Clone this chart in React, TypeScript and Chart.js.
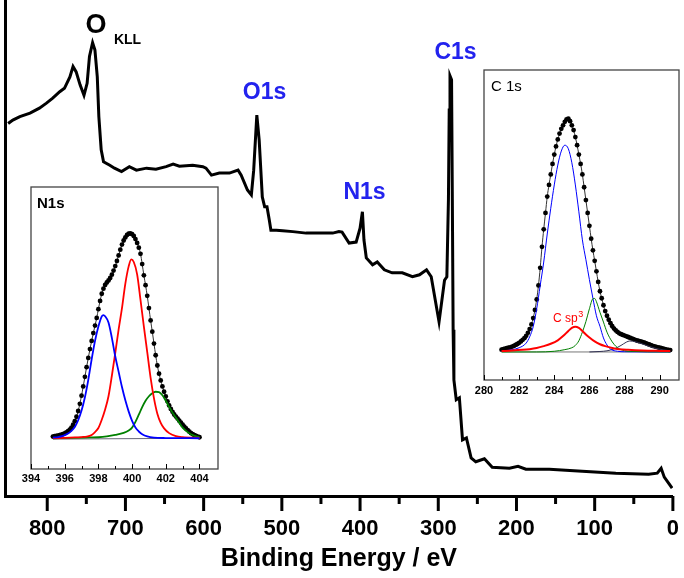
import React, { useEffect, useRef } from "react";
import { Chart, registerables } from "chart.js";
Chart.register(...registerables);

const FONT = '"Liberation Sans", Arial, Helvetica, sans-serif';
const BLUE_LABEL = "#2323ee";

// ---- Survey spectrum: [binding energy eV, intensity a.u.] ----
const SURVEY: [number, number][] = [
  [850, 75.1], [844, 75.8], [835, 76.5], [822, 77.2], [810, 78.2], [801, 79.2], [793, 80.2],
  [784, 81.5], [778, 82.2], [771, 84.5], [767, 86.6], [763, 85.5], [758, 82.9], [753, 80.8],
  [749, 83.2], [746, 88.6], [742, 91.4], [739, 89.9], [736, 84.5], [734, 76.5], [731, 69.8],
  [728, 67.4], [720, 66.7], [714, 66.1], [705, 65.4], [695, 66.4], [686, 65.7], [673, 66.1],
  [661, 65.9], [648, 66.4], [639, 66.9], [631, 66.5], [614, 66.7], [601, 66.4], [597, 66.1],
  [590, 64.7], [580, 65.1], [567, 65.1], [556, 65.7], [552, 64.7], [544, 61.7], [539, 60.7],
  [536, 65.7], [532, 76.8], [529, 71.8], [525, 60.3], [522, 58.3], [519, 58.3], [516, 55.6],
  [514, 53.6], [507, 53.6], [499, 53.5], [486, 53.3], [469, 53.0], [452, 53.0], [435, 53.0],
  [427, 53.3], [423, 53.2], [414, 51.0], [405, 51.2], [400, 54.0], [397, 57.3], [395, 51.6],
  [392, 48.0], [384, 46.6], [378, 47.2], [369, 45.6], [359, 45.0], [346, 45.0], [333, 44.2],
  [324, 44.6], [315, 45.6], [309, 44.2], [299, 35.1], [292, 43.5], [289, 44.2], [287, 59.7],
  [286, 77.8], [285, 84.7], [283, 83.9], [282, 59.7], [281, 33.5], [280, 23.4], [277, 19.4],
  [273, 19.8], [269, 11.3], [264, 11.7], [258, 7.7], [252, 6.9], [241, 7.5], [231, 5.8],
  [209, 5.6], [198, 6.0], [188, 5.4], [158, 5.4], [116, 5.0], [73, 4.6], [31, 4.4],
  [20, 4.6], [15, 5.6], [11, 3.8], [1, 1.6],
];
const SURVEY_LABELED_TICKS = [800, 700, 600, 500, 400, 300, 200, 100, 0];

// ---- N1s inset ----
const N1S_ENVELOPE: [number, number][] = [
  [395.3, 0.8], [395.4, 1.0], [395.5, 1.2], [395.6, 1.3], [395.7, 1.5], [395.8, 1.7], [395.9, 2.0],
  [396.0, 2.4], [396.1, 2.9], [396.2, 3.5], [396.3, 4.2], [396.4, 5.2], [396.5, 6.6], [396.6, 8.3],
  [396.7, 10.5], [396.8, 13.3], [396.9, 16.8], [397.0, 20.8], [397.1, 25.3], [397.2, 30.0],
  [397.3, 34.7], [397.4, 39.2], [397.5, 43.5], [397.6, 47.5], [397.7, 51.3], [397.8, 55.0],
  [397.9, 58.7], [398.0, 63.0], [398.1, 67.0], [398.2, 70.5], [398.3, 73.0], [398.4, 74.8],
  [398.5, 76.0], [398.6, 77.0], [398.7, 78.2], [398.8, 79.8], [398.9, 81.8], [399.0, 84.0],
  [399.1, 86.5], [399.2, 89.2], [399.3, 92.0], [399.4, 94.5], [399.5, 96.5], [399.6, 98.0],
  [399.7, 99.2], [399.8, 99.8], [399.9, 100], [400.0, 99.6], [400.1, 98.7], [400.2, 97.2],
  [400.3, 95.3], [400.4, 93.0], [400.5, 90.0], [400.6, 85.0], [400.7, 79.5], [400.8, 74.7],
  [400.9, 69.5], [401.0, 63.5], [401.1, 57.5], [401.2, 52.0], [401.3, 46.2], [401.4, 40.5],
  [401.5, 35.5], [401.6, 31.5], [401.7, 28.2], [401.8, 25.3], [401.9, 22.7], [402.0, 20.4],
  [402.1, 18.0], [402.2, 16.0], [402.3, 14.3], [402.4, 12.9], [402.5, 11.6], [402.6, 10.6],
  [402.7, 9.6], [402.8, 8.6], [402.9, 7.6], [403.0, 6.6], [403.1, 5.7], [403.2, 4.8],
  [403.3, 4.0], [403.4, 3.2], [403.5, 2.5], [403.6, 2.0], [403.7, 1.5], [403.8, 1.1],
  [403.9, 0.8], [404.0, 0.5],
];
const N1S_BLUE: [number, number][] = [
  [395.3, 0.3], [395.6, 0.6], [395.9, 1.2], [396.2, 2.3], [396.4, 3.6], [396.6, 5.5], [396.8, 8.8],
  [397.0, 13.5], [397.2, 20.0], [397.4, 28.5], [397.6, 38.5], [397.8, 47.5], [398.0, 54.5],
  [398.2, 59.5], [398.3, 60.1], [398.4, 59.5], [398.6, 56.5], [398.8, 49.0], [399.0, 40.0],
  [399.2, 32.5], [399.4, 25.0], [399.6, 18.5], [399.8, 13.0], [400.0, 8.5], [400.2, 5.2],
  [400.4, 3.3], [400.6, 2.0], [400.9, 0.9], [401.3, 0.3], [402.0, 0.1], [404.0, 0],
];
const N1S_RED: [number, number][] = [
  [395.3, 0.1], [396.0, 0.2], [396.6, 0.4], [397.0, 0.6], [397.3, 0.8], [397.6, 1.6], [397.8, 3.0],
  [398.0, 5.0], [398.2, 9.0], [398.4, 14.0], [398.6, 20.5], [398.8, 30.5], [399.0, 41.5],
  [399.2, 53.0], [399.4, 63.5], [399.6, 75.5], [399.8, 84.0], [399.95, 87.3], [400.1, 86.0],
  [400.3, 80.0], [400.5, 67.5], [400.7, 54.5], [400.9, 42.0], [401.1, 29.5], [401.3, 19.5],
  [401.5, 12.0], [401.7, 7.5], [401.9, 4.8], [402.2, 2.5], [402.6, 1.0], [403.0, 0.5], [404.0, 0.2],
];
const N1S_GREEN: [number, number][] = [
  [395.3, 0], [396.5, 0.2], [397.5, 0.4], [398.0, 0.5], [398.5, 0.9], [399.0, 1.6], [399.5, 2.6],
  [399.8, 3.8], [400.0, 5.2], [400.2, 8.0], [400.4, 11.5], [400.6, 15.2], [400.8, 18.3],
  [401.0, 20.5], [401.2, 22.0], [401.4, 22.7], [401.6, 22.5], [401.8, 21.0], [402.0, 18.3],
  [402.2, 15.3], [402.4, 12.5], [402.6, 10.0], [402.8, 7.6], [403.0, 5.2], [403.3, 3.0],
  [403.6, 1.5], [404.0, 0.5],
];
const N1S_BASE: [number, number][] = [[395.3, -0.4], [404.0, 0]];

// ---- C 1s inset ----
const C1S_ENVELOPE: [number, number][] = [
  [281.0, 1.0], [281.1, 1.2], [281.2, 1.4], [281.3, 1.6], [281.4, 1.8], [281.5, 2.0], [281.6, 2.3],
  [281.7, 2.6], [281.8, 3.0], [281.9, 3.4], [282.0, 3.9], [282.1, 4.5], [282.2, 5.2], [282.3, 5.9],
  [282.4, 6.9], [282.5, 8.2], [282.6, 9.8], [282.7, 11.8], [282.8, 14.5], [282.9, 18.0],
  [283.0, 22.5], [283.1, 28.5], [283.2, 36.0], [283.3, 45.0], [283.4, 52.5], [283.5, 59.5],
  [283.6, 66.5], [283.7, 71.5], [283.8, 76.0], [283.9, 80.5], [284.0, 84.5], [284.1, 88.0],
  [284.2, 91.0], [284.3, 93.5], [284.4, 95.5], [284.5, 97.0], [284.6, 98.5], [284.7, 99.6],
  [284.8, 99.9], [284.9, 98.8], [285.0, 97.0], [285.1, 95.0], [285.2, 92.0], [285.3, 88.5],
  [285.4, 84.5], [285.5, 80.5], [285.6, 76.0], [285.7, 70.5], [285.8, 65.0], [285.9, 59.5],
  [286.0, 54.0], [286.1, 48.5], [286.2, 43.5], [286.3, 39.0], [286.4, 34.5], [286.5, 30.0],
  [286.6, 26.0], [286.7, 23.0], [286.8, 20.0], [286.9, 17.5], [287.0, 15.5], [287.1, 13.8],
  [287.2, 12.3], [287.3, 11.0], [287.4, 10.0], [287.5, 9.2], [287.6, 8.6], [287.7, 8.0],
  [287.8, 7.6], [287.9, 7.3], [288.0, 7.0], [288.1, 6.7], [288.2, 6.4], [288.3, 6.1],
  [288.4, 5.8], [288.5, 5.5], [288.6, 5.2], [288.7, 4.9], [288.8, 4.7], [288.9, 4.5],
  [289.0, 4.3], [289.1, 4.1], [289.2, 3.8], [289.3, 3.5], [289.4, 3.2], [289.5, 2.9],
  [289.6, 2.6], [289.7, 2.4], [289.8, 2.2], [289.9, 2.0], [290.0, 1.8], [290.1, 1.6],
  [290.2, 1.4], [290.3, 1.2], [290.4, 1.0], [290.5, 0.9], [290.6, 0.8],
];
const C1S_BLUE: [number, number][] = [
  [281.0, 0.3], [281.6, 1.0], [282.0, 1.8], [282.4, 3.8], [282.6, 6.5], [282.8, 10.8], [283.0, 18.5],
  [283.2, 28.5], [283.4, 38.5], [283.6, 50.5], [283.8, 61.5], [284.0, 71.5], [284.2, 80.0],
  [284.4, 86.0], [284.6, 88.5], [284.8, 87.0], [285.0, 81.0], [285.2, 71.5], [285.4, 60.0],
  [285.6, 48.0], [285.8, 39.5], [286.0, 31.0], [286.2, 23.0], [286.4, 15.5], [286.6, 11.0],
  [286.8, 6.0], [287.0, 3.0], [287.2, 1.2], [287.6, 0.3], [288.0, 0.1], [290.6, 0],
];
const C1S_RED: [number, number][] = [
  [281.0, 0.4], [281.6, 0.6], [282.2, 0.9], [282.6, 1.2], [283.0, 1.7], [283.4, 2.5], [283.8, 3.5],
  [284.2, 5.0], [284.5, 6.8], [284.8, 9.0], [285.0, 10.3], [285.2, 10.8], [285.4, 10.3],
  [285.6, 9.0], [285.8, 7.5], [286.0, 6.2], [286.3, 4.5], [286.6, 3.3], [286.9, 2.5],
  [287.3, 1.7], [287.7, 1.2], [288.2, 0.9], [289.0, 0.6], [290.0, 0.45], [290.6, 0.4],
];
const C1S_GREEN: [number, number][] = [
  [281.0, 0], [283.0, 0], [284.0, 0.3], [284.6, 1.0], [285.0, 1.8], [285.2, 2.8], [285.4, 4.8],
  [285.6, 8.5], [285.8, 13.0], [286.0, 18.5], [286.2, 22.8], [286.3, 22.9], [286.4, 21.5],
  [286.6, 17.0], [286.8, 12.8], [287.0, 8.5], [287.2, 5.5], [287.4, 3.3], [287.6, 1.8],
  [287.8, 1.0], [288.2, 0.3], [290.6, 0],
];
const C1S_DARK: [number, number][] = [
  [286.0, 0], [286.6, 0.2], [287.0, 0.5], [287.4, 1.3], [287.8, 2.8], [288.1, 4.2], [288.3, 4.7],
  [288.6, 4.4], [289.0, 3.5], [289.4, 2.4], [289.8, 1.5], [290.2, 0.9], [290.6, 0.5],
];
const C1S_BASE: [number, number][] = [[281.0, 0], [290.6, 0]];

const toPts = (a: [number, number][]) => a.map(([x, y]) => ({ x, y }));

const mainDecor = {
  id: "mainDecor",
  afterDraw(chart: any) {
    const { ctx, chartArea } = chart;
    const xs = chart.scales.x;
    ctx.save();
    ctx.strokeStyle = "#000";
    ctx.lineWidth = 3;
    xs.ticks.forEach((t: any) => {
      const v = t.value;
      if (v % 50 !== 0) return;
      const px = xs.getPixelForValue(v);
      const len = SURVEY_LABELED_TICKS.includes(v) ? 15 : 8;
      ctx.beginPath();
      ctx.moveTo(px, chartArea.bottom);
      ctx.lineTo(px, chartArea.bottom + len);
      ctx.stroke();
    });
    ctx.textAlign = "center";
    ctx.textBaseline = "middle";
    ctx.fillStyle = "#000";
    ctx.font = `bold 27px ${FONT}`;
    ctx.fillText("O", 96, 26);
    ctx.font = `bold 14px ${FONT}`;
    ctx.fillText("KLL", 127.5, 40);
    ctx.fillStyle = BLUE_LABEL;
    ctx.font = `bold 23px ${FONT}`;
    ctx.fillText("O1s", 264.5, 93);
    ctx.fillText("N1s", 364.5, 193);
    ctx.fillText("C1s", 455.5, 53);
    ctx.restore();
  },
};

function makeInsetDecor(title: string, titleFont: string, tx: number, ty: number, extra?: (ctx: any, chart: any) => void) {
  return {
    id: "insetDecor",
    beforeDraw(chart: any) {
      const { ctx, chartArea: a } = chart;
      ctx.save();
      ctx.fillStyle = "#fff";
      ctx.fillRect(a.left, a.top, a.right - a.left, a.bottom - a.top);
      ctx.restore();
    },
    afterDraw(chart: any) {
      const { ctx, chartArea: a } = chart;
      const xs = chart.scales.x;
      ctx.save();
      ctx.strokeStyle = "#444";
      ctx.lineWidth = 1.3;
      ctx.strokeRect(a.left, a.top, a.right - a.left, a.bottom - a.top);
      ctx.strokeStyle = "#000";
      ctx.lineWidth = 1;
      xs.ticks.forEach((t: any) => {
        const v = t.value;
        if (!Number.isInteger(Math.round(v * 1000) / 1000)) return;
        const px = Math.round(xs.getPixelForValue(v)) + 0.5;
        const len = v % 2 === 0 ? 5 : 3;
        ctx.beginPath();
        ctx.moveTo(px, a.bottom);
        ctx.lineTo(px, a.bottom - len);
        ctx.stroke();
      });
      ctx.fillStyle = "#000";
      ctx.font = titleFont;
      ctx.textAlign = "left";
      ctx.textBaseline = "middle";
      ctx.fillText(title, tx, ty);
      if (extra) extra(ctx, chart);
      ctx.restore();
    },
  };
}

function insetOptions(xmin: number, xmax: number, ymin: number, ymax: number, pad: any, axisH: number, labelPad: number) {
  return {
    animation: false,
    responsive: false,
    events: [],
    layout: { padding: pad },
    plugins: { legend: { display: false }, tooltip: { enabled: false } },
    elements: { line: { tension: 0.35, cubicInterpolationMode: "monotone" } },
    scales: {
      x: {
        type: "linear",
        min: xmin,
        max: xmax,
        afterFit: (s: any) => { s.height = axisH; },
        ticks: {
          stepSize: 1,
          autoSkip: false,
          maxRotation: 0,
          padding: labelPad,
          color: "#000",
          font: { family: FONT, size: 11, weight: "bold" },
          callback: (v: any) => {
            const n = Number(v);
            return Number.isInteger(n) && n % 2 === 0 ? String(n) : "";
          },
        },
        grid: { drawOnChartArea: false, drawTicks: false },
        border: { display: false },
      },
      y: { display: false, min: ymin, max: ymax },
    },
  };
}

export default function App() {
  const mainRef = useRef<HTMLCanvasElement>(null);
  const nRef = useRef<HTMLCanvasElement>(null);
  const cRef = useRef<HTMLCanvasElement>(null);

  useEffect(() => {
    const main = new Chart(mainRef.current as HTMLCanvasElement, {
      type: "line",
      data: {
        datasets: [
          {
            data: toPts(SURVEY),
            borderColor: "#000",
            borderWidth: 3,
            pointRadius: 0,
            tension: 0,
            fill: false,
          },
        ],
      },
      options: {
        animation: false,
        responsive: false,
        events: [],
        layout: { padding: { left: 5, right: 10, top: 0, bottom: 0 } },
        plugins: { legend: { display: false }, tooltip: { enabled: false } },
        scales: {
          x: {
            type: "linear",
            reverse: true,
            min: 0,
            max: 854,
            afterFit: (s: any) => { s.height = 82; },
            ticks: {
              stepSize: 50,
              autoSkip: false,
              maxRotation: 0,
              padding: 5,
              color: "#000",
              font: { family: FONT, size: 22, weight: "bold" },
              callback: (v: any) => (SURVEY_LABELED_TICKS.includes(Number(v)) ? String(v) : ""),
            },
            grid: { drawOnChartArea: false, drawTicks: true, tickLength: 15, tickColor: "rgba(0,0,0,0)" },
            border: { display: true, color: "#000", width: 3 },
            title: {
              display: true,
              text: "Binding Energy / eV",
              color: "#000",
              font: { family: FONT, size: 25, weight: "bold" },
              padding: { top: 0, bottom: 4 },
            },
          },
          y: {
            min: 0,
            max: 100,
            afterFit: (s: any) => { s.width = 0; },
            ticks: { display: false },
            grid: { drawOnChartArea: false, drawTicks: false },
            border: { display: true, color: "#000", width: 3 },
          },
        },
      } as any,
      plugins: [mainDecor],
    });

    const nChart = new Chart(nRef.current as HTMLCanvasElement, {
      type: "line",
      data: {
        datasets: [
          { data: toPts(N1S_BLUE), borderColor: "#0000ff", borderWidth: 1.8, pointRadius: 0 },
          { data: toPts(N1S_RED), borderColor: "#ff0000", borderWidth: 1.8, pointRadius: 0 },
          { data: toPts(N1S_GREEN), borderColor: "#008000", borderWidth: 1.8, pointRadius: 0 },
          { data: toPts(N1S_BASE), borderColor: "#666677", borderWidth: 1, pointRadius: 0, tension: 0 },
          {
            data: toPts(N1S_ENVELOPE),
            borderColor: "#333",
            borderWidth: 1,
            pointRadius: 2.4,
            pointBackgroundColor: "#000",
            pointBorderWidth: 0,
          },
        ],
      },
      options: insetOptions(394, 405.1, -15.0, 122.6, { left: 18, right: 10, top: 7, bottom: 0 }, 21, 3) as any,
      plugins: [makeInsetDecor("N1s", `bold 15px ${FONT}`, 24, 24)],
    });

    const cChart = new Chart(cRef.current as HTMLCanvasElement, {
      type: "line",
      data: {
        datasets: [
          { data: toPts(C1S_RED), borderColor: "#ff0000", borderWidth: 2, pointRadius: 0 },
          { data: toPts(C1S_GREEN), borderColor: "#008000", borderWidth: 1, pointRadius: 0 },
          { data: toPts(C1S_BLUE), borderColor: "#0000ff", borderWidth: 1, pointRadius: 0 },
          { data: toPts(C1S_DARK), borderColor: "#333355", borderWidth: 1, pointRadius: 0 },
          { data: toPts(C1S_BASE), borderColor: "#777", borderWidth: 1, pointRadius: 0, tension: 0 },
          {
            data: toPts(C1S_ENVELOPE),
            borderColor: "#333",
            borderWidth: 1,
            pointRadius: 2.4,
            pointBackgroundColor: "#000",
            pointBorderWidth: 0,
          },
        ],
      },
      options: insetOptions(280, 291.1, -12.0, 120.7, { left: 20, right: 5, top: 8, bottom: 0 }, 22, 4) as any,
      plugins: [
        makeInsetDecor("C 1s", `15px ${FONT}`, 27, 25, (ctx: any) => {
          ctx.fillStyle = "#ff0000";
          ctx.textAlign = "left";
          ctx.textBaseline = "alphabetic";
          ctx.font = `12px ${FONT}`;
          ctx.fillText("C sp", 89, 260);
          const w = ctx.measureText("C sp").width;
          ctx.font = `9px ${FONT}`;
          ctx.fillText("3", 89 + w + 0.5, 255);
        }),
      ],
    });

    return () => {
      main.destroy();
      nChart.destroy();
      cChart.destroy();
    };
  }, []);

  return (
    <div style={{ position: "fixed", left: 0, top: 0, width: 684, height: 578, background: "#fff" }}>
      <canvas ref={mainRef} width={684} height={578} style={{ position: "absolute", left: 0, top: 0, width: 684, height: 578 }} />
      <canvas ref={nRef} width={215} height={310} style={{ position: "absolute", left: 13, top: 180, width: 215, height: 310 }} />
      <canvas ref={cRef} width={220} height={340} style={{ position: "absolute", left: 464, top: 62, width: 220, height: 340 }} />
    </div>
  );
}
